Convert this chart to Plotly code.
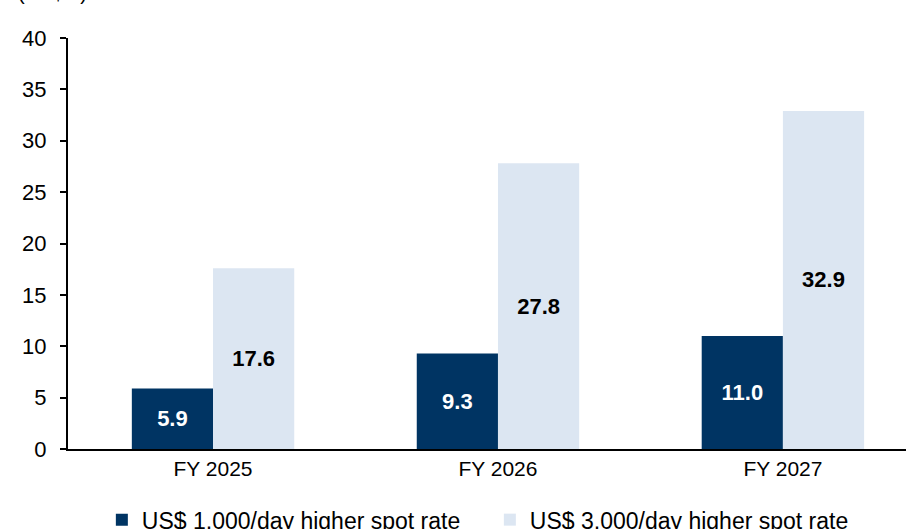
import plotly.graph_objects as go

categories = ["FY 2025", "FY 2026", "FY 2027"]
series_1000 = [5.9, 9.3, 11.0]
series_3000 = [17.6, 27.8, 32.9]
series_names = ["US$ 1,000/day higher spot rate", "US$ 3,000/day higher spot rate"]
y_ticks = [0, 5, 10, 15, 20, 25, 30, 35, 40]

DARK = "#003463"
LIGHT = "#DCE6F2"
FONT = "Liberation Sans, Arial, sans-serif"

fig = go.Figure()
fig.add_trace(go.Bar(
    x=categories, y=series_1000, name=series_names[0],
    marker=dict(color=DARK, line=dict(width=0)),
    text=[f"{v:.1f}" for v in series_1000], textposition="inside",
    insidetextanchor="middle",
    textfont=dict(family=FONT, size=22, color="white", weight="bold"),
))
fig.add_trace(go.Bar(
    x=categories, y=series_3000, name=series_names[1],
    marker=dict(color=LIGHT, line=dict(width=0)),
    text=[f"{v:.1f}" for v in series_3000], textposition="inside",
    insidetextanchor="middle",
    textfont=dict(family=FONT, size=22, color="black", weight="bold"),
))

fig.update_layout(
    width=906, height=529,
    margin=dict(l=68, r=0, t=38, b=80, autoexpand=False),
    paper_bgcolor="white", plot_bgcolor="white",
    barmode="group", bargap=0.43, bargroupgap=0,
    font=dict(family=FONT, size=20, color="black"),
    showlegend=True,
    legend=dict(orientation="h", x=0.0404, xanchor="left", y=-0.172, yanchor="middle",
                font=dict(size=23, family=FONT), entrywidth=343, entrywidthmode="pixels",
                traceorder="normal"),
    uniformtext=dict(mode=False),
)
fig.update_xaxes(
    range=[-0.509, 2.432], showline=True, linecolor="black", linewidth=2,
    ticks="", showgrid=False, tickfont=dict(size=21, family=FONT), automargin=False,
)
fig.update_yaxes(
    range=[0, 40], tickvals=y_ticks, showline=True, linecolor="black", linewidth=2,
    ticks="outside", ticklen=6, tickwidth=2, tickcolor="black", showgrid=False,
    zeroline=False, tickfont=dict(size=22, family=FONT), ticklabelstandoff=9,
    automargin=False,
)
fig.add_annotation(text="(US$m)", xref="paper", yref="paper", x=-52/838, xanchor="left",
                   y=1 + 38/411 + 20/411, yanchor="top", showarrow=False,
                   font=dict(size=20, family=FONT))

fig.write_html("out.html", config={"displayModeBar": False},
               post_script="document.body.style.margin='0';")
